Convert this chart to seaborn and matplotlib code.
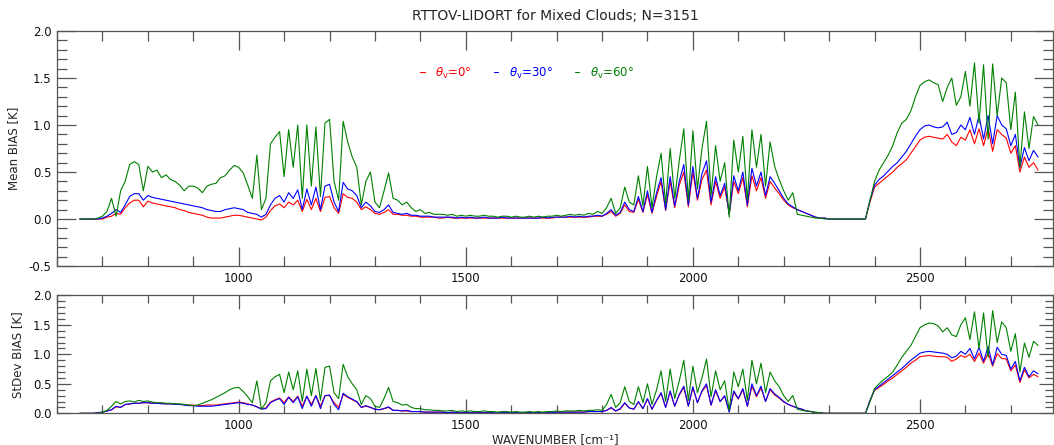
import numpy as np
import pandas as pd
import matplotlib
matplotlib.use("Agg")
import matplotlib.pyplot as plt
from matplotlib.ticker import MultipleLocator, FormatStrFormatter
import seaborn as sns

# ---------------- data ----------------
wavenumber = list(range(650, 2770, 10))  # channel grid [cm-1]

angle_labels = [r"$\theta_{\rm v}$=0°", r"$\theta_{\rm v}$=30°", r"$\theta_{\rm v}$=60°"]
angle_colors = ["#ff0000", "#0000ff", "#008000"]

mean_bias_0 = [
    0.0, 0.0, 0.0, 0.0, 0.0, 0.0, 0.02, 0.03, 0.06, 0.05,
    0.12, 0.17, 0.20, 0.20, 0.13, 0.19, 0.17, 0.16, 0.15, 0.14,
    0.13, 0.12, 0.10, 0.09, 0.07, 0.06, 0.05, 0.04, 0.02, 0.01,
    0.01, 0.01, 0.02, 0.03, 0.04, 0.04, 0.03, 0.02, 0.01, 0.0,
    -0.01, 0.02, 0.09, 0.14, 0.16, 0.12, 0.18, 0.15, 0.20, 0.08,
    0.21, 0.10, 0.22, 0.08, 0.23, 0.24, 0.12, 0.06, 0.27, 0.23,
    0.22, 0.18, 0.10, 0.13, 0.10, 0.06, 0.05, 0.07, 0.10, 0.05,
    0.05, 0.04, 0.04, 0.03, 0.03, 0.02, 0.02, 0.02, 0.02, 0.01,
    0.01, 0.02, 0.01, 0.01, 0.01, 0.01, 0.01, 0.01, 0.01, 0.01,
    0.01, 0.01, 0.01, 0.01, 0.01, 0.01, 0.01, 0.01, 0.01, 0.01,
    0.01, 0.01, 0.01, 0.01, 0.01, 0.02, 0.02, 0.02, 0.02, 0.02,
    0.02, 0.02, 0.02, 0.03, 0.03, 0.03, 0.05, 0.08, 0.03, 0.06,
    0.15, 0.08, 0.07, 0.21, 0.07, 0.26, 0.06, 0.24, 0.40, 0.09,
    0.40, 0.12, 0.36, 0.50, 0.13, 0.50, 0.20, 0.42, 0.52, 0.15,
    0.40, 0.22, 0.34, 0.05, 0.40, 0.27, 0.44, 0.13, 0.46, 0.30,
    0.44, 0.22, 0.40, 0.33, 0.27, 0.20, 0.15, 0.12, 0.10, 0.08,
    0.06, 0.04, 0.02, 0.01, 0.01, 0.0, 0.0, 0.0, 0.0, 0.0,
    0.0, 0.0, 0.0, 0.0, 0.18, 0.34, 0.38, 0.42, 0.46, 0.50,
    0.55, 0.59, 0.63, 0.70, 0.77, 0.84, 0.87, 0.88, 0.87, 0.86,
    0.85, 0.90, 0.82, 0.78, 0.87, 0.84, 0.95, 0.80, 0.96, 0.78,
    0.97, 0.72, 0.95, 0.90, 0.86, 0.70, 0.78, 0.50, 0.66, 0.55,
    0.60, 0.52,
]

mean_bias_30 = [
    0.0, 0.0, 0.0, 0.0, 0.0, 0.01, 0.03, 0.06, 0.10, 0.07,
    0.15, 0.24, 0.27, 0.27, 0.20, 0.25, 0.23, 0.22, 0.21, 0.20,
    0.19, 0.18, 0.17, 0.16, 0.15, 0.14, 0.13, 0.12, 0.10, 0.09,
    0.08, 0.08, 0.10, 0.11, 0.12, 0.11, 0.10, 0.07, 0.06, 0.05,
    0.02, 0.05, 0.15, 0.22, 0.25, 0.18, 0.28, 0.22, 0.31, 0.10,
    0.32, 0.15, 0.34, 0.10, 0.35, 0.37, 0.18, 0.08, 0.39, 0.32,
    0.30, 0.25, 0.12, 0.18, 0.14, 0.08, 0.07, 0.10, 0.15, 0.07,
    0.06, 0.05, 0.06, 0.04, 0.04, 0.03, 0.03, 0.03, 0.02, 0.02,
    0.02, 0.02, 0.02, 0.01, 0.02, 0.01, 0.02, 0.01, 0.01, 0.02,
    0.01, 0.01, 0.01, 0.02, 0.01, 0.01, 0.01, 0.01, 0.01, 0.01,
    0.01, 0.01, 0.02, 0.01, 0.02, 0.02, 0.02, 0.02, 0.03, 0.02,
    0.03, 0.02, 0.03, 0.03, 0.04, 0.03, 0.06, 0.10, 0.04, 0.07,
    0.18, 0.10, 0.08, 0.24, 0.08, 0.30, 0.07, 0.28, 0.44, 0.10,
    0.45, 0.14, 0.40, 0.58, 0.15, 0.56, 0.22, 0.48, 0.62, 0.18,
    0.45, 0.25, 0.38, 0.05, 0.46, 0.30, 0.50, 0.15, 0.54, 0.35,
    0.50, 0.25, 0.45, 0.38, 0.30, 0.22, 0.16, 0.13, 0.10, 0.08,
    0.06, 0.04, 0.02, 0.01, 0.01, 0.0, 0.0, 0.0, 0.0, 0.0,
    0.0, 0.0, 0.0, 0.0, 0.20, 0.36, 0.42, 0.46, 0.51, 0.56,
    0.60, 0.66, 0.72, 0.80, 0.88, 0.95, 0.99, 1.00, 0.98, 0.97,
    0.98, 1.03, 0.90, 0.92, 1.00, 0.95, 1.08, 0.90, 1.10, 0.85,
    1.10, 0.80, 1.10, 1.00, 0.96, 0.78, 0.90, 0.55, 0.76, 0.62,
    0.73, 0.66,
]

mean_bias_60 = [
    0.0, 0.0, 0.0, 0.0, 0.01, 0.03, 0.08, 0.22, 0.03, 0.30,
    0.40, 0.58, 0.61, 0.58, 0.30, 0.56, 0.50, 0.52, 0.44, 0.47,
    0.42, 0.40, 0.36, 0.30, 0.35, 0.35, 0.33, 0.28, 0.35, 0.37,
    0.38, 0.44, 0.46, 0.52, 0.57, 0.55, 0.49, 0.36, 0.22, 0.68,
    0.10, 0.22, 0.80, 0.87, 0.93, 0.45, 0.95, 0.55, 1.00, 0.22,
    1.00, 0.35, 0.98, 0.24, 1.02, 1.06, 0.40, 0.20, 1.04, 0.82,
    0.66, 0.55, 0.15, 0.40, 0.50, 0.18, 0.12, 0.30, 0.49, 0.22,
    0.20, 0.15, 0.18, 0.12, 0.08, 0.10, 0.06, 0.07, 0.05, 0.05,
    0.05, 0.04, 0.05, 0.03, 0.04, 0.03, 0.04, 0.03, 0.03, 0.04,
    0.03, 0.03, 0.02, 0.03, 0.03, 0.02, 0.03, 0.02, 0.02, 0.03,
    0.02, 0.03, 0.02, 0.03, 0.03, 0.04, 0.03, 0.04, 0.05, 0.04,
    0.05, 0.04, 0.06, 0.05, 0.08, 0.06, 0.12, 0.22, 0.06, 0.12,
    0.34, 0.18, 0.15, 0.46, 0.14, 0.56, 0.12, 0.45, 0.70, 0.16,
    0.75, 0.22, 0.62, 0.96, 0.20, 0.94, 0.32, 0.75, 1.04, 0.25,
    0.78, 0.40, 0.60, 0.02, 0.84, 0.50, 0.88, 0.20, 0.95, 0.55,
    0.90, 0.35, 0.82, 0.56, 0.42, 0.30, 0.20, 0.28, 0.05, 0.04,
    0.03, 0.02, 0.01, 0.01, 0.0, 0.0, 0.0, 0.0, 0.0, 0.0,
    0.0, 0.0, 0.0, 0.0, 0.20, 0.40, 0.52, 0.60, 0.68, 0.78,
    0.92, 1.02, 1.06, 1.15, 1.30, 1.42, 1.46, 1.48, 1.45, 1.43,
    1.25, 1.40, 1.50, 1.21, 1.30, 1.57, 1.20, 1.66, 1.02, 1.64,
    0.85, 1.65, 1.10, 1.50, 1.45, 0.95, 1.35, 0.55, 1.14, 0.75,
    1.09, 1.00,
]

stdev_bias_0 = [
    0.0, 0.0, 0.0, 0.0, 0.01, 0.02, 0.04, 0.06, 0.11, 0.10,
    0.15, 0.16, 0.17, 0.17, 0.18, 0.18, 0.17, 0.17, 0.17, 0.16,
    0.16, 0.16, 0.15, 0.15, 0.14, 0.14, 0.13, 0.13, 0.14, 0.14,
    0.14, 0.15, 0.16, 0.17, 0.18, 0.19, 0.18, 0.16, 0.14, 0.11,
    0.08, 0.09, 0.19, 0.23, 0.26, 0.18, 0.28, 0.20, 0.29, 0.12,
    0.29, 0.15, 0.30, 0.12, 0.30, 0.30, 0.18, 0.10, 0.32, 0.27,
    0.23, 0.19, 0.10, 0.12, 0.10, 0.07, 0.06, 0.08, 0.10, 0.05,
    0.05, 0.04, 0.04, 0.03, 0.03, 0.03, 0.02, 0.02, 0.02, 0.02,
    0.02, 0.01, 0.02, 0.01, 0.01, 0.01, 0.01, 0.01, 0.01, 0.01,
    0.01, 0.01, 0.01, 0.01, 0.01, 0.01, 0.01, 0.01, 0.01, 0.01,
    0.01, 0.01, 0.01, 0.01, 0.01, 0.02, 0.02, 0.02, 0.02, 0.02,
    0.02, 0.02, 0.03, 0.03, 0.03, 0.03, 0.05, 0.09, 0.04, 0.07,
    0.17, 0.09, 0.07, 0.19, 0.08, 0.24, 0.07, 0.21, 0.34, 0.10,
    0.36, 0.12, 0.31, 0.44, 0.12, 0.43, 0.18, 0.37, 0.47, 0.14,
    0.38, 0.20, 0.29, 0.03, 0.36, 0.24, 0.40, 0.12, 0.46, 0.28,
    0.43, 0.20, 0.40, 0.31, 0.26, 0.19, 0.15, 0.12, 0.09, 0.07,
    0.04, 0.03, 0.01, 0.01, 0.0, 0.0, 0.0, 0.0, 0.0, 0.0,
    0.0, 0.0, 0.0, 0.0, 0.21, 0.39, 0.44, 0.49, 0.55, 0.60,
    0.66, 0.72, 0.78, 0.85, 0.90, 0.96, 0.97, 0.98, 0.97, 0.96,
    0.96, 0.95, 0.88, 0.92, 0.98, 0.95, 1.00, 0.88, 1.02, 0.85,
    1.02, 0.80, 1.01, 0.93, 0.92, 0.72, 0.82, 0.52, 0.74, 0.60,
    0.66, 0.62,
]

stdev_bias_30 = [
    0.0, 0.0, 0.0, 0.0, 0.01, 0.02, 0.04, 0.06, 0.12, 0.10,
    0.15, 0.16, 0.17, 0.17, 0.18, 0.18, 0.17, 0.17, 0.16, 0.16,
    0.16, 0.15, 0.15, 0.14, 0.13, 0.13, 0.12, 0.12, 0.12, 0.12,
    0.13, 0.14, 0.15, 0.16, 0.17, 0.18, 0.17, 0.15, 0.14, 0.11,
    0.07, 0.08, 0.18, 0.22, 0.25, 0.15, 0.27, 0.18, 0.28, 0.08,
    0.29, 0.12, 0.30, 0.08, 0.30, 0.31, 0.15, 0.06, 0.34, 0.28,
    0.24, 0.20, 0.10, 0.13, 0.10, 0.07, 0.06, 0.08, 0.11, 0.05,
    0.05, 0.04, 0.05, 0.03, 0.03, 0.03, 0.02, 0.02, 0.02, 0.02,
    0.02, 0.01, 0.02, 0.01, 0.01, 0.01, 0.01, 0.01, 0.01, 0.01,
    0.01, 0.01, 0.01, 0.01, 0.01, 0.01, 0.01, 0.01, 0.01, 0.01,
    0.01, 0.01, 0.01, 0.01, 0.01, 0.02, 0.02, 0.02, 0.02, 0.02,
    0.02, 0.02, 0.03, 0.03, 0.03, 0.03, 0.05, 0.10, 0.04, 0.08,
    0.18, 0.09, 0.07, 0.20, 0.08, 0.25, 0.07, 0.22, 0.35, 0.10,
    0.38, 0.12, 0.32, 0.46, 0.12, 0.45, 0.18, 0.38, 0.50, 0.14,
    0.40, 0.20, 0.30, 0.02, 0.38, 0.25, 0.42, 0.12, 0.50, 0.30,
    0.46, 0.20, 0.42, 0.33, 0.27, 0.20, 0.15, 0.12, 0.09, 0.07,
    0.04, 0.03, 0.01, 0.01, 0.0, 0.0, 0.0, 0.0, 0.0, 0.0,
    0.0, 0.0, 0.0, 0.0, 0.22, 0.40, 0.46, 0.52, 0.58, 0.64,
    0.70, 0.76, 0.83, 0.90, 0.96, 1.02, 1.04, 1.05, 1.04, 1.03,
    1.02, 1.00, 0.94, 0.97, 1.05, 1.00, 1.10, 0.92, 1.12, 0.88,
    1.13, 0.82, 1.12, 1.00, 0.98, 0.75, 0.88, 0.55, 0.78, 0.62,
    0.72, 0.67,
]

stdev_bias_60 = [
    0.0, 0.0, 0.0, 0.0, 0.0, 0.02, 0.05, 0.12, 0.20, 0.16,
    0.20, 0.21, 0.19, 0.22, 0.20, 0.21, 0.19, 0.18, 0.18, 0.17,
    0.17, 0.16, 0.16, 0.15, 0.14, 0.13, 0.14, 0.17, 0.20, 0.23,
    0.27, 0.31, 0.35, 0.40, 0.43, 0.44, 0.37, 0.28, 0.18, 0.55,
    0.07, 0.18, 0.55, 0.62, 0.66, 0.35, 0.70, 0.40, 0.72, 0.20,
    0.75, 0.30, 0.76, 0.22, 0.78, 0.80, 0.35, 0.25, 0.83, 0.62,
    0.50, 0.40, 0.15, 0.30, 0.25, 0.12, 0.10, 0.25, 0.44, 0.20,
    0.18, 0.14, 0.15, 0.10, 0.08, 0.08, 0.06, 0.06, 0.05, 0.05,
    0.04, 0.04, 0.05, 0.03, 0.04, 0.03, 0.04, 0.03, 0.03, 0.04,
    0.03, 0.03, 0.02, 0.03, 0.03, 0.02, 0.03, 0.02, 0.02, 0.03,
    0.02, 0.03, 0.02, 0.03, 0.03, 0.04, 0.03, 0.04, 0.04, 0.04,
    0.05, 0.04, 0.05, 0.05, 0.06, 0.05, 0.15, 0.32, 0.10, 0.18,
    0.45, 0.20, 0.15, 0.45, 0.18, 0.50, 0.15, 0.40, 0.72, 0.20,
    0.75, 0.25, 0.55, 0.90, 0.22, 0.80, 0.35, 0.60, 0.92, 0.28,
    0.72, 0.40, 0.55, 0.05, 0.70, 0.45, 0.75, 0.22, 0.90, 0.50,
    0.85, 0.35, 0.70, 0.55, 0.45, 0.30, 0.20, 0.30, 0.07, 0.05,
    0.04, 0.03, 0.02, 0.01, 0.0, 0.0, 0.0, 0.0, 0.0, 0.0,
    0.0, 0.0, 0.0, 0.0, 0.20, 0.42, 0.50, 0.57, 0.63, 0.70,
    0.82, 0.95, 1.05, 1.15, 1.30, 1.45, 1.50, 1.53, 1.52, 1.48,
    1.38, 1.45, 1.33, 1.30, 1.50, 1.62, 1.25, 1.72, 1.10, 1.70,
    0.95, 1.74, 1.20, 1.55, 1.45, 1.05, 1.35, 0.70, 1.19, 0.95,
    1.22, 1.15,
]

title_text = "RTTOV-LIDORT for Mixed Clouds; N=3151"
ylabel_top = "Mean BIAS [K]"
ylabel_bottom = "StDev BIAS [K]"
xlabel_text = "WAVENUMBER [cm⁻¹]"

# ---------------- assemble long tables ----------------
def long_table(series):
    frames = []
    for lab, vals in zip(angle_labels, series):
        assert len(vals) == len(wavenumber), (lab, len(vals))
        frames.append(pd.DataFrame({"wn": wavenumber, "val": vals, "angle": lab}))
    return pd.concat(frames, ignore_index=True)

df_mean = long_table([mean_bias_0, mean_bias_30, mean_bias_60])
df_std = long_table([stdev_bias_0, stdev_bias_30, stdev_bias_60])
palette = dict(zip(angle_labels, angle_colors))

# ---------------- style ----------------
sns.set_theme(style="ticks")
plt.rcParams["font.family"] = ["DejaVu Sans"]
plt.rcParams["axes.unicode_minus"] = False

fig = plt.figure(figsize=(10.54, 4.45), dpi=100)
ax1 = fig.add_axes([0.0541, 0.4022, 0.9450, 0.5281])
ax2 = fig.add_axes([0.0541, 0.0712, 0.9450, 0.2652])

for ax, df in ((ax1, df_mean), (ax2, df_std)):
    sns.lineplot(data=df, x="wn", y="val", hue="angle", hue_order=angle_labels,
                 palette=palette, estimator=None, sort=False, lw=0.8,
                 ax=ax, legend=(ax is ax1))

spine_col = "#555555"
for ax, (ylo, yhi), majl, minl in ((ax1, (-0.5, 2.0), 13.5, 7.0),
                                   (ax2, (0.0, 2.0), 10.0, 5.5)):
    ax.set_xlim(600, 2793)
    ax.set_ylim(ylo, yhi)
    ax.xaxis.set_major_locator(MultipleLocator(500))
    ax.xaxis.set_minor_locator(MultipleLocator(100))
    ax.yaxis.set_major_locator(MultipleLocator(0.5))
    ax.yaxis.set_minor_locator(MultipleLocator(0.1))
    ax.yaxis.set_major_formatter(FormatStrFormatter("%.1f"))
    ax.tick_params(which="both", direction="in", top=True, right=True,
                   color=spine_col, width=0.9, labelsize=8.5, labelcolor="#111111",
                   pad=4)
    ax.tick_params(which="major", length=majl)
    ax.tick_params(which="minor", length=minl)
    for sp in ax.spines.values():
        sp.set_color(spine_col)
        sp.set_linewidth(0.9)
    ax.set_xlabel("")

ax1.set_ylabel(ylabel_top, fontsize=8.5, labelpad=6)
ax2.set_ylabel(ylabel_bottom, fontsize=8.5, labelpad=6)
ax2.set_xlabel(xlabel_text, fontsize=8.5, labelpad=1)
ax1.set_title(title_text, fontsize=10, pad=8)

handles, labels = ax1.get_legend_handles_labels()
ax1.legend(handles, labels, ncol=3, loc="center", bbox_to_anchor=(0.472, 0.821),
           frameon=False, handlelength=0.35, handletextpad=0.9, columnspacing=1.9,
           fontsize=8.5, labelcolor="linecolor")

fig.savefig("out.png", dpi=100)
